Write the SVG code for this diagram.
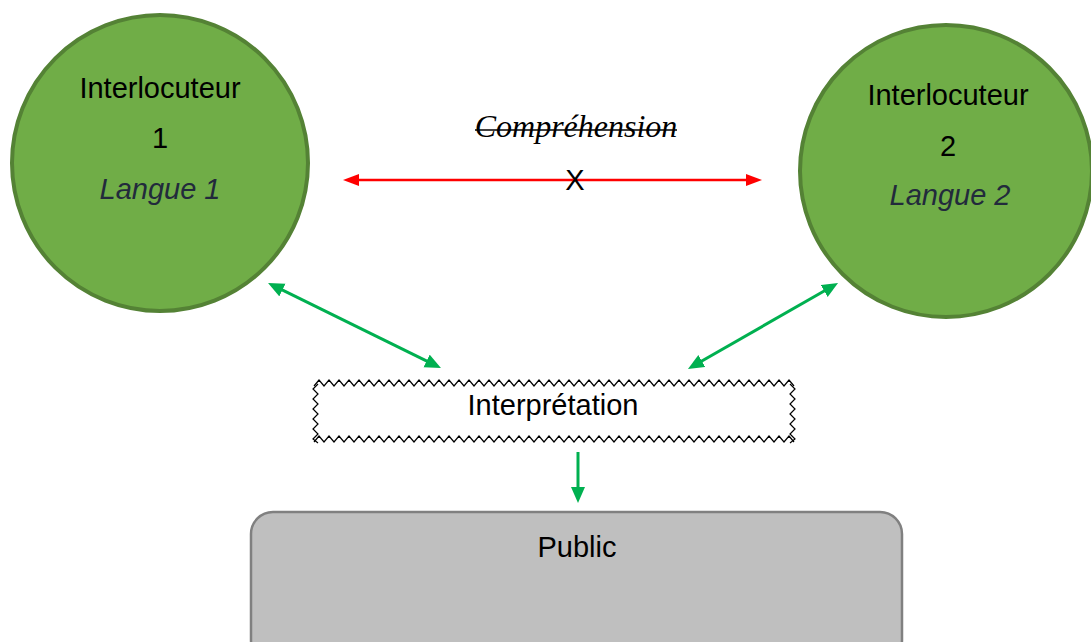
<svg xmlns="http://www.w3.org/2000/svg" width="1091" height="642" viewBox="0 0 1091 642">
  <style>
    .person { fill: #70ad47; stroke: #548235; stroke-width: 4; }
    .label { font-family: "Liberation Sans", Arial, sans-serif; font-size: 29px; fill: #000; text-anchor: middle; }
    .lang { font-family: "Liberation Sans", Arial, sans-serif; font-size: 29px; font-style: italic; fill: #222a3c; text-anchor: middle; }
    .zig { fill: none; stroke: #000; stroke-width: 1.2; stroke-linejoin: miter; }
    .green { stroke: #00b050; stroke-width: 3; fill: none; }
    .red { stroke: #ff0000; stroke-width: 2.5; fill: none; }
  </style>
  <defs>
    <marker id="headGreen" markerUnits="userSpaceOnUse" markerWidth="18" markerHeight="16" refX="2" refY="7" orient="auto-start-reverse">
      <path d="M0,0 L16,7 L0,14 z" fill="#00b050"/>
    </marker>
    <marker id="headRed" markerUnits="userSpaceOnUse" markerWidth="18" markerHeight="14" refX="2" refY="6" orient="auto-start-reverse">
      <path d="M0,0 L16,6 L0,12 z" fill="#ff0000"/>
    </marker>
  </defs>

  <rect width="1091" height="642" fill="#ffffff"/>

  <!-- speaker 1 -->
  <g id="interlocuteur1">
    <circle class="person" cx="160" cy="163" r="148"/>
    <text class="label" x="160" y="98">Interlocuteur</text>
    <text class="label" x="160" y="148">1</text>
    <text class="lang" x="160" y="199">Langue 1</text>
  </g>

  <!-- speaker 2 -->
  <g id="interlocuteur2">
    <circle class="person" cx="946" cy="171" r="146"/>
    <text class="label" x="948" y="105">Interlocuteur</text>
    <text class="label" x="948" y="156">2</text>
    <text class="lang" x="950" y="205">Langue 2</text>
  </g>

  <!-- crossed-out understanding -->
  <g id="comprehension">
    <text x="576" y="137" font-family="'Liberation Serif', 'Times New Roman', serif" font-size="32" font-style="italic" text-anchor="middle" fill="#000">Compréhension</text>
    <line x1="475" y1="130" x2="677" y2="130" stroke="#000" stroke-width="1.5"/>
  </g>

  <!-- interpreter box with zigzag border -->
  <g id="interpretation">
    <rect x="315" y="384" width="478" height="54" fill="#ffffff"/>
    <path class="zig" d="M314,386 l5-6 5 6 5-6 5 6 5-6 5 6 5-6 5 6 5-6 5 6 5-6 5 6 5-6 5 6 5-6 5 6
      5-6 5 6 5-6 5 6 5-6 5 6 5-6 5 6 5-6 5 6 5-6 5 6 5-6 5 6 5-6 5 6
      5-6 5 6 5-6 5 6 5-6 5 6 5-6 5 6 5-6 5 6 5-6 5 6 5-6 5 6 5-6 5 6
      5-6 5 6 5-6 5 6 5-6 5 6 5-6 5 6 5-6 5 6 5-6 5 6 5-6 5 6 5-6 5 6
      5-6 5 6 5-6 5 6 5-6 5 6 5-6 5 6 5-6 5 6 5-6 5 6 5-6 5 6 5-6 5 6
      5-6 5 6 5-6 5 6 5-6 5 6 5-6 5 6 5-6 5 6 5-6 5 6 5-6 5 6 5-6 5 6"/>
    <path class="zig" d="M314,442 l5-6 5 6 5-6 5 6 5-6 5 6 5-6 5 6 5-6 5 6 5-6 5 6 5-6 5 6 5-6 5 6
      5-6 5 6 5-6 5 6 5-6 5 6 5-6 5 6 5-6 5 6 5-6 5 6 5-6 5 6 5-6 5 6
      5-6 5 6 5-6 5 6 5-6 5 6 5-6 5 6 5-6 5 6 5-6 5 6 5-6 5 6 5-6 5 6
      5-6 5 6 5-6 5 6 5-6 5 6 5-6 5 6 5-6 5 6 5-6 5 6 5-6 5 6 5-6 5 6
      5-6 5 6 5-6 5 6 5-6 5 6 5-6 5 6 5-6 5 6 5-6 5 6 5-6 5 6 5-6 5 6
      5-6 5 6 5-6 5 6 5-6 5 6 5-6 5 6 5-6 5 6 5-6 5 6 5-6 5 6 5-6 5 6"/>
    <path class="zig" d="M318,384 l-5 5 5 5 -5 5 5 5 -5 5 5 5 -5 5 5 5 -5 5 5 5 -5 5 5 4"/>
    <path class="zig" d="M790,384 l5 5 -5 5 5 5 -5 5 5 5 -5 5 5 5 -5 5 5 5 -5 5 5 5 -5 4"/>
    <text class="label" x="553" y="415">Interprétation</text>
  </g>

  <!-- audience -->
  <g id="public">
    <rect x="251" y="512" width="651" height="150" rx="22" ry="22" fill="#bfbfbf" stroke="#808080" stroke-width="2.5"/>
    <text class="label" x="577" y="557">Public</text>
  </g>

  <!-- connectors -->
  <g id="connectors">
    <line class="red" x1="357" y1="180" x2="748" y2="180" marker-start="url(#headRed)" marker-end="url(#headRed)"/>
    <line class="green" x1="280.6" y1="289.2" x2="428.4" y2="361.8" marker-start="url(#headGreen)" marker-end="url(#headGreen)"/>
    <line class="green" x1="825.9" y1="290" x2="700.1" y2="362" marker-start="url(#headGreen)" marker-end="url(#headGreen)"/>
    <line class="green" x1="578" y1="452" x2="578" y2="489" marker-end="url(#headGreen)"/>
  </g>

  <!-- crossing mark over the red link -->
  <text class="label" x="575" y="190" font-size="28">X</text>
</svg>
